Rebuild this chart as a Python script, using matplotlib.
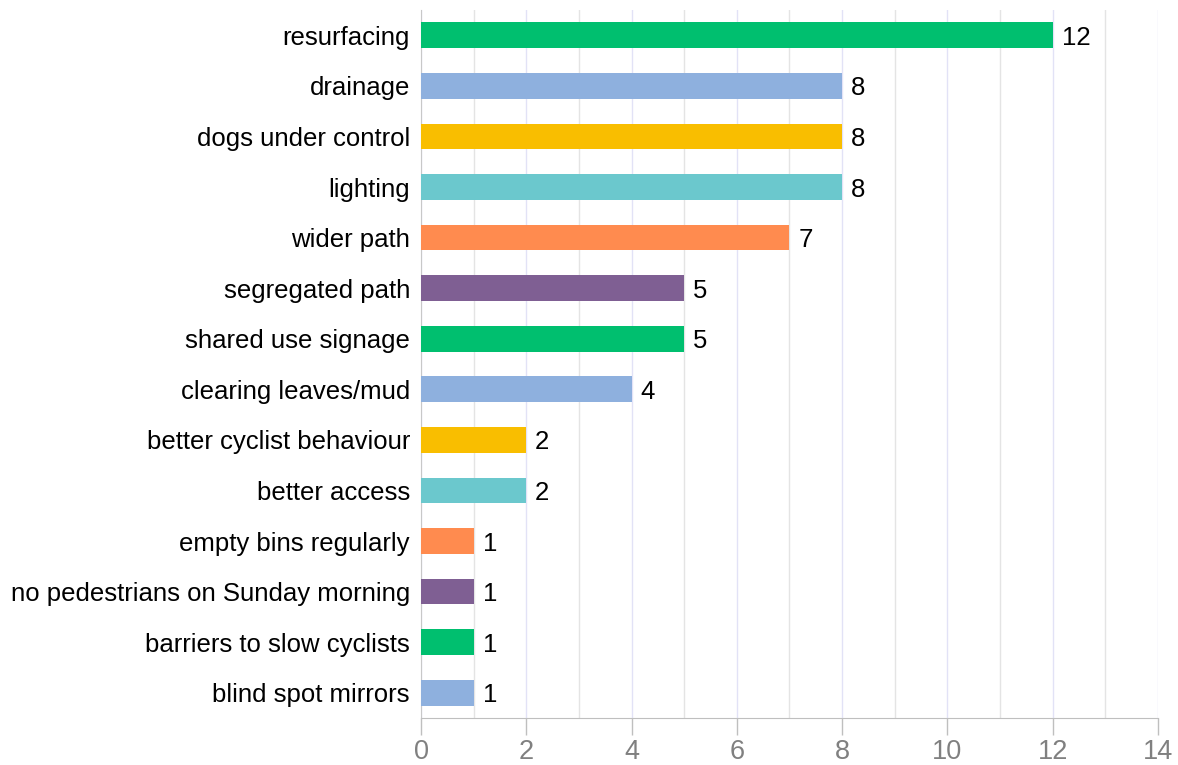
import matplotlib
matplotlib.use("Agg")
import matplotlib.pyplot as plt
from matplotlib.ticker import MultipleLocator

categories = ["resurfacing", "drainage", "dogs under control", "lighting", "wider path",
              "segregated path", "shared use signage", "clearing leaves/mud",
              "better cyclist behaviour", "better access", "empty bins regularly",
              "no pedestrians on Sunday morning", "barriers to slow cyclists",
              "blind spot mirrors"]
counts = [12, 8, 8, 8, 7, 5, 5, 4, 2, 2, 1, 1, 1, 1]
palette = ["#00BF6F", "#8EB0DE", "#F9BE00", "#6BC8CD", "#FF8B4F", "#7F5F93"]

plt.rcParams["font.family"] = ["Liberation Sans", "DejaVu Sans"]

fig = plt.figure(figsize=(11.78, 7.65), dpi=100)
ax = fig.add_axes([0.3574, 0.0614, 0.6256, 0.9255])

n = len(categories)
ypos = [n - 1 - i for i in range(n)]
colors = [palette[i % len(palette)] for i in range(n)]
ax.barh(ypos, counts, height=0.51, color=colors, zorder=3)

for y, v in zip(ypos, counts):
    ax.text(v + 0.17, y, str(v), va="center_baseline", ha="left", fontsize=18.5, color="black")

ax.set_yticks(ypos)
ax.set_yticklabels(categories, fontsize=18.5)
ax.set_ylim(-0.5, n - 0.5)
ax.set_xlim(0, 14)
ax.xaxis.set_major_locator(MultipleLocator(2))
ax.xaxis.set_minor_locator(MultipleLocator(1))
ax.tick_params(axis="x", which="major", length=12, width=1, color="#BFBFBF",
               labelsize=19.5, labelcolor="#808080", pad=3)
ax.tick_params(axis="x", which="minor", length=0)
ax.tick_params(axis="y", length=0, pad=8)
ax.grid(axis="x", which="major", color="#E2E2F6", linewidth=1, zorder=0)
ax.grid(axis="x", which="minor", color="#E4E4E4", linewidth=1, zorder=0)

for side in ["top", "right"]:
    ax.spines[side].set_visible(False)
ax.spines["left"].set_color("#C8C8C8")
ax.spines["bottom"].set_color("#BFBFBF")

fig.savefig("out.png", dpi=100)
